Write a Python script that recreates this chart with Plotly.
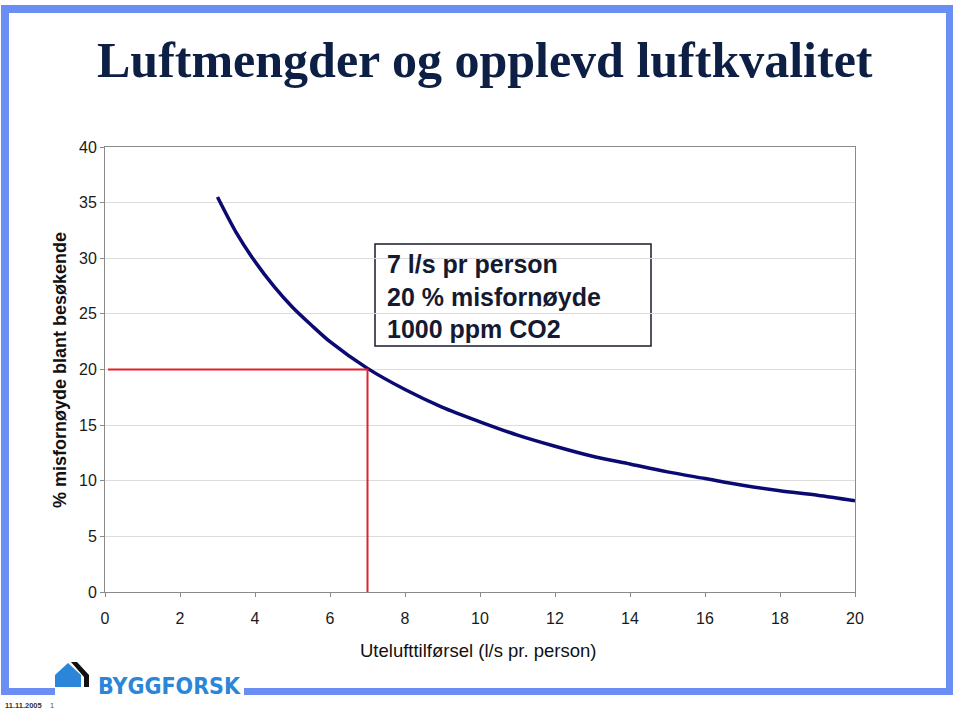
import plotly.graph_objects as go

# ---- data ----
ventilation = [3, 3.5, 4, 4.5, 5, 5.5, 6, 7, 8, 9, 10, 11, 12, 13, 14, 15, 16, 17, 18, 19, 20]
dissatisfied = [35.5, 32.3, 29.7, 27.5, 25.6, 24.0, 22.5, 20.1, 18.2, 16.6, 15.3, 14.1,
                13.1, 12.2, 11.5, 10.8, 10.2, 9.6, 9.1, 8.7, 8.2]
marker_x = [0.08, 7, 7]
marker_y = [20, 20, 0]
x_ticks = [0, 2, 4, 6, 8, 10, 12, 14, 16, 18, 20]
y_ticks = [0, 5, 10, 15, 20, 25, 30, 35, 40]

title_text = "Luftmengder og opplevd luftkvalitet"
x_title = "Utelufttilførsel (l/s pr. person)"
y_title = "% misfornøyde blant besøkende"
box_lines = ["7 l/s pr person", "20 % misfornøyde", "1000 ppm CO2"]
logo_text = "BYGGFORSK"
date_text = "11.11.2005"
page_text = "1"

# ---- layout helpers (pixel -> paper) ----
W, H = 960, 712
L, R, T, B = 105, 855, 147, 592


def px(x):
    return (x - L) / (R - L)


def py(y):
    return (B - y) / (B - T)


SANS = "Liberation Sans, Arial, sans-serif"
BORDER = "#6b8ef5"
LOGO_BLUE = "#2b86d9"

fig = go.Figure()
fig.add_trace(go.Scatter(x=ventilation, y=dissatisfied, mode="lines",
                         line=dict(color="#0a0a72", width=3.5, shape="spline", smoothing=0.8),
                         hoverinfo="skip", showlegend=False))
fig.add_trace(go.Scatter(x=marker_x, y=marker_y, mode="lines",
                         line=dict(color="#e3202e", width=2),
                         hoverinfo="skip", showlegend=False))

shapes = []


def rect(x0, y0, x1, y1, fill, line_w=0, line_c=None):
    shapes.append(dict(type="rect", xref="paper", yref="paper",
                       x0=px(x0), x1=px(x1), y0=py(y1), y1=py(y0),
                       fillcolor=fill, line=dict(width=line_w, color=line_c or fill),
                       layer="above"))


# slide frame
rect(1, 5, 953, 13, BORDER)
rect(1, 5, 9, 695, BORDER)
rect(946, 5, 953, 695, BORDER)
rect(1, 688, 55, 695, BORDER)
rect(244, 688, 953, 695, BORDER)

# info box
shapes.append(dict(type="rect", xref="paper", yref="paper",
                   x0=px(375), x1=px(651), y0=py(346), y1=py(244),
                   fillcolor="white", line=dict(width=1.5, color="#1a1a2e"), layer="below"))


def path(points):
    return "M " + " L ".join(f"{px(a)},{py(b)}" for a, b in points) + " Z"


# logo house
shapes.append(dict(type="path", xref="paper", yref="paper",
                   path=path([(55, 687), (55, 675), (68, 663), (81, 675), (81, 687)]),
                   fillcolor=LOGO_BLUE, line=dict(width=0)))
shapes.append(dict(type="path", xref="paper", yref="paper",
                   path=path([(71, 662), (77, 662), (89, 675), (89, 687), (84, 687), (84, 677)]),
                   fillcolor="#111111", line=dict(width=0)))

annotations = [
    dict(text="<b>" + title_text + "</b>", x=px(485), y=py(60), xref="paper", yref="paper",
         xanchor="center", yanchor="middle", showarrow=False,
         font=dict(family="Liberation Serif, Times New Roman, serif", size=50, color="#0d1f45"),
         ),
    dict(text="<b>" + "<br>".join(box_lines) + "</b>", x=px(385), y=py(248),
         xref="paper", yref="paper", xanchor="left", yanchor="top", align="left",
         showarrow=False, font=dict(family=SANS, size=25, color="#151a30")),
    dict(text=x_title, x=px(478), y=py(650), xref="paper", yref="paper",
         xanchor="center", yanchor="middle", showarrow=False,
         font=dict(family=SANS, size=18.5, color="#111111")),
    dict(text="<b>" + y_title + "</b>", x=px(60), y=py(370), xref="paper", yref="paper",
         xanchor="center", yanchor="middle", textangle=-90, showarrow=False,
         font=dict(family=SANS, size=18, color="#111111")),
    dict(text="<b>" + logo_text + "</b>", x=px(96), y=py(686), xref="paper", yref="paper",
         xanchor="left", yanchor="middle", showarrow=False,
         font=dict(family="DejaVu Sans Condensed, DejaVu Sans, sans-serif", size=23,
                   color=LOGO_BLUE)),
    dict(text="<b>" + date_text + "</b>", x=px(3), y=py(705), xref="paper", yref="paper",
         xanchor="left", yanchor="middle", showarrow=False,
         font=dict(family=SANS, size=7.5, color="#333333")),
    dict(text=page_text, x=px(48), y=py(705), xref="paper", yref="paper",
         xanchor="left", yanchor="middle", showarrow=False,
         font=dict(family=SANS, size=7.5, color="#555555")),
]

fig.update_layout(
    width=W, height=H,
    margin=dict(l=L, r=W - R, t=T, b=H - B, pad=0),
    paper_bgcolor="white", plot_bgcolor="white",
    showlegend=False,
    shapes=shapes, annotations=annotations,
    xaxis=dict(range=[0, 20], tickvals=x_ticks, ticktext=[str(v) for v in x_ticks],
               showgrid=False, zeroline=False, showline=True, linecolor="#8a8a8a",
               linewidth=1, mirror=True, ticks="outside", ticklen=4, tickcolor="#8a8a8a",
               ticklabelstandoff=8,
               tickfont=dict(family=SANS, size=16, color="#1a1a1a")),
    yaxis=dict(range=[0, 40], tickvals=y_ticks, ticktext=[str(v) for v in y_ticks],
               showgrid=True, gridcolor="#dcdcdc", gridwidth=1, zeroline=False,
               showline=True, linecolor="#8a8a8a", linewidth=1, mirror=True,
               ticks="outside", ticklen=4, tickcolor="#8a8a8a",
               tickfont=dict(family=SANS, size=16, color="#1a1a1a")),
)

fig.write_html("out.html", config={"displayModeBar": False},
               post_script="document.body.style.margin='0';document.body.style.overflow='hidden';")
